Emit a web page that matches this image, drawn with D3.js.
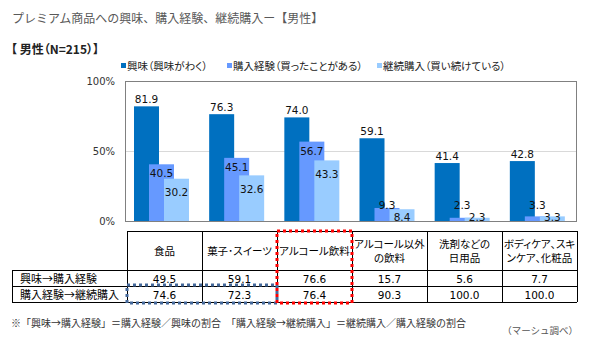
<!DOCTYPE html>
<html>
<head>
<meta charset="utf-8">
<script src="https://cdn.jsdelivr.net/npm/d3@7"></script>
<style>
  body { margin: 0; background: #fff; }
  text { font-family: "Noto Sans CJK JP", sans-serif; font-feature-settings: "palt"; }
  .num { font-family: "DejaVu Sans", sans-serif; font-feature-settings: normal; }
  .full { font-feature-settings: normal; }
</style>
</head>
<body>
<svg width="600" height="340"></svg>
<script>
// データ
var categories = ["食品", "菓子･スイーツ", "アルコール飲料", "アルコール以外\nの飲料", "洗剤などの\n日用品", "ボディケア、スキ\nンケア、化粧品"];
var seriesNames = ["興味（興味がわく）", "購入経験（買ったことがある）", "継続購入（買い続けている）"];
var interest = [81.9, 76.3, 74.0, 59.1, 41.4, 42.8];
var experience = [40.5, 45.1, 56.7, 9.3, 2.3, 3.3];
var repeat = [30.2, 32.6, 43.3, 8.4, 2.3, 3.3];
var rowLabels = ["興味→購入経験", "購入経験→継続購入"];
var rateInterestToExp = [49.5, 59.1, 76.6, 15.7, 5.6, 7.7];
var rateExpToRepeat = [74.6, 72.3, 76.4, 90.3, 100.0, 100.0];
var yTicks = [0, 50, 100];

var colors = ["#0070C0", "#6699FF", "#99CCFF"];
var seriesValues = [interest, experience, repeat];

function draw(){
    var svg = d3.select("svg");

    // タイトル
    svg.append("text").attr("class", "full").attr("x", 12).attr("y", 23)
        .attr("font-size", 12).attr("fill", "#595959")
        .text("プレミアム商品への興味、購入経験、継続購入ー【男性】");
    svg.append("text").attr("x", 11).attr("y", 54)
        .attr("font-size", 12).attr("font-weight", "bold").attr("fill", "#222")
        .text("【 男性（N=215）】");

    // 凡例
    var legX = [121, 227, 377];
    seriesNames.forEach(function(s, i){
        svg.append("rect").attr("x", legX[i]).attr("y", 63).attr("width", 5).attr("height", 5).attr("fill", colors[i]);
        svg.append("text").attr("x", legX[i] + 6).attr("y", 70).attr("font-size", 10.5).attr("fill", "#222").text(s);
    });

    var x = d3.scaleBand().domain(categories).range([125, 576]);
    var xs = d3.scaleBand().domain(d3.range(3)).range([9, 54]);
    var y = d3.scaleLinear().domain([0, 100]).range([221, 81]);

    // グリッド
    svg.append("g").selectAll("line").data(yTicks.filter(function(d){ return d > 0 && d < 100; }))
        .enter().append("line")
        .attr("x1", 125).attr("x2", 576)
        .attr("y1", function(d){ return y(d) + 0.5; }).attr("y2", function(d){ return y(d) + 0.5; })
        .attr("stroke", "#d9d9d9");

    var yAxis = svg.append("g").attr("transform", "translate(125,0)")
        .call(d3.axisLeft(y).tickValues(yTicks).tickSize(0).tickPadding(10).tickFormat(function(d){ return d + "%"; }));
    yAxis.select(".domain").remove();
    yAxis.selectAll("text").attr("class", "num").attr("font-size", 10).attr("fill", "#333")
        .style("font-family", "DejaVu Sans");

    // 棒
    seriesValues.forEach(function(vals, si){
        var g = svg.append("g");
        g.selectAll("rect").data(vals).enter().append("rect")
            .attr("x", function(d, i){ return x(categories[i]) + xs(si); })
            .attr("width", 25)
            .attr("y", function(d){ return y(d); })
            .attr("height", function(d){ return y(0) - y(d); })
            .attr("fill", colors[si]);
    });
    seriesValues.forEach(function(vals, si){
        svg.append("g").selectAll("text").data(vals).enter().append("text")
            .attr("class", "num")
            .attr("font-size", 10.5).attr("fill", "#111").attr("text-anchor", "middle")
            .attr("x", function(d, i){ return x(categories[i]) + xs(si) + 12.5; })
            .attr("y", function(d){
                var t = y(d);
                if (si === 0) return t - 3;
                if (si === 1) return Math.min(t + 13, 209);
                return Math.min(t + 17.5, 221);
            })
            .text(function(d){ return d.toFixed(1); });
    });

    // 枠
    svg.append("rect").attr("x", 125.5).attr("y", 81.5).attr("width", 451).attr("height", 140)
        .attr("fill", "none").attr("stroke", "#808080");

    // 表
    var tx = d3.scaleBand().domain(categories).range([127, 577]);
    var rows = [231, 270, 286, 302];
    var t = svg.append("g").attr("stroke", "#000").attr("shape-rendering", "crispEdges");
    t.append("line").attr("x1", 127).attr("x2", 577).attr("y1", rows[0]).attr("y2", rows[0]);
    [1, 2, 3].forEach(function(r){
        t.append("line").attr("x1", 12).attr("x2", 577).attr("y1", rows[r]).attr("y2", rows[r]);
    });
    t.append("line").attr("x1", 12).attr("x2", 12).attr("y1", rows[1]).attr("y2", rows[3]);
    categories.forEach(function(c){
        t.append("line").attr("x1", tx(c)).attr("x2", tx(c)).attr("y1", rows[0]).attr("y2", rows[3]);
    });
    t.append("line").attr("x1", 577).attr("x2", 577).attr("y1", rows[0]).attr("y2", rows[3]);

    categories.forEach(function(c){
        var lines = c.split("\n");
        var cx = tx(c) + tx.bandwidth() / 2;
        lines.forEach(function(l, li){
            svg.append("text").attr("x", cx)
                .attr("y", lines.length === 1 ? 255 : 248 + li * 13.5)
                .attr("text-anchor", "middle").attr("font-size", 10.5).attr("fill", "#000")
                .text(l);
        });
    });
    rowLabels.forEach(function(l, i){
        svg.append("text").attr("x", 20).attr("y", rows[i + 1] + 12.5).attr("font-size", 11).attr("fill", "#000").text(l);
    });
    [rateInterestToExp, rateExpToRepeat].forEach(function(vals, ri){
        svg.append("g").selectAll("text").data(vals).enter().append("text")
            .attr("class", "num").attr("font-size", 10.5).attr("text-anchor", "middle").attr("fill", "#000")
            .attr("x", function(d, i){ return tx(categories[i]) + tx.bandwidth() / 2; })
            .attr("y", rows[ri + 1] + 12.5)
            .text(function(d){ return d.toFixed(1); });
    });

    // 点線の枠
    svg.append("rect").attr("x", tx(categories[0])).attr("y", rows[2] - 1)
        .attr("width", tx.bandwidth() * 2).attr("height", rows[3] - rows[2] + 2)
        .attr("fill", "none").attr("stroke", "#44689A").attr("stroke-width", 3).attr("stroke-dasharray", "3,3");
    svg.append("rect").attr("x", tx(categories[2])).attr("y", rows[0])
        .attr("width", tx.bandwidth()).attr("height", rows[3] - rows[0] + 1)
        .attr("fill", "none").attr("stroke", "#FF0000").attr("stroke-width", 3).attr("stroke-dasharray", "3,3");

    // 注記
    svg.append("text").attr("class", "full").attr("x", 11).attr("y", 327).attr("font-size", 10).attr("fill", "#333")
        .text("※「興味→購入経験」＝購入経験／興味の割合　「購入経験→継続購入」＝継続購入／購入経験の割合");
    svg.append("text").attr("class", "full").attr("x", 578).attr("y", 334).attr("font-size", 9.5).attr("fill", "#555")
        .attr("text-anchor", "end").text("（マーシュ調べ）");
}

draw();
</script>
</body>
</html>
